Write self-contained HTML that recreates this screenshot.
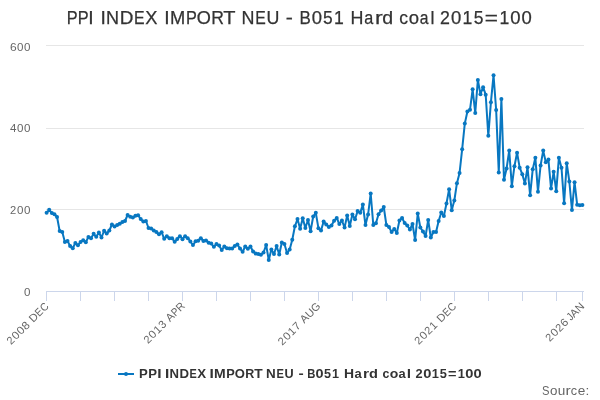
<!DOCTYPE html>
<html><head><meta charset="utf-8"><style>
html,body{margin:0;padding:0;background:#fff;width:600px;height:400px;overflow:hidden}
svg{display:block;font-family:"Liberation Sans",sans-serif;will-change:transform}
</style></head><body>
<svg width="600" height="400" viewBox="0 0 600 400">
<rect width="600" height="400" fill="#fff"/>
<g stroke="#e6e6e6" stroke-width="1" fill="none">
<path d="M 46 45.5 L 584 45.5"/><path d="M 46 128.5 L 584 128.5"/><path d="M 46 209.5 L 584 209.5"/>
</g>
<path d="M 46 291.5 L 584 291.5" stroke="#ccd6eb" stroke-width="1" fill="none"/>
<path d="M 46.5 291 L 46.5 301 M 80.5 291 L 80.5 301 M 114.5 291 L 114.5 301 M 148.5 291 L 148.5 301 M 182.5 291 L 182.5 301 M 216.5 291 L 216.5 301 M 250.5 291 L 250.5 301 M 284.5 291 L 284.5 301 M 318.5 291 L 318.5 301 M 352.5 291 L 352.5 301 M 386.5 291 L 386.5 301 M 420.5 291 L 420.5 301 M 454.5 291 L 454.5 301 M 488.5 291 L 488.5 301 M 522.5 291 L 522.5 301 M 556.5 291 L 556.5 301 M 582.5 291 L 582.5 301" stroke="#ccd6eb" stroke-width="1" fill="none"/>
<g font-size="18" fill="#333333" stroke="#333333" stroke-width="0.25">
<text x="66.67" y="23.8" textLength="10.85" lengthAdjust="spacingAndGlyphs">P</text><text x="77.76" y="23.8" textLength="10.85" lengthAdjust="spacingAndGlyphs">P</text><text x="88.39" y="23.8" textLength="5.41" lengthAdjust="spacingAndGlyphs">I</text><text x="100.42" y="23.8" textLength="5.37" lengthAdjust="spacingAndGlyphs">I</text><text x="106.11" y="23.8" textLength="13.03" lengthAdjust="spacingAndGlyphs">N</text><text x="119.70" y="23.8" textLength="13.65" lengthAdjust="spacingAndGlyphs">D</text><text x="134.01" y="23.8" textLength="10.56" lengthAdjust="spacingAndGlyphs">E</text><text x="145.19" y="23.8" textLength="12.19" lengthAdjust="spacingAndGlyphs">X</text><text x="164.21" y="23.8" textLength="5.39" lengthAdjust="spacingAndGlyphs">I</text><text x="169.91" y="23.8" textLength="15.25" lengthAdjust="spacingAndGlyphs">M</text><text x="185.92" y="23.8" textLength="10.83" lengthAdjust="spacingAndGlyphs">P</text><text x="196.70" y="23.8" textLength="14.12" lengthAdjust="spacingAndGlyphs">O</text><text x="211.34" y="23.8" textLength="12.68" lengthAdjust="spacingAndGlyphs">R</text><text x="223.23" y="23.8" textLength="12.23" lengthAdjust="spacingAndGlyphs">T</text><text x="241.53" y="23.8" textLength="12.96" lengthAdjust="spacingAndGlyphs">N</text><text x="255.30" y="23.8" textLength="10.50" lengthAdjust="spacingAndGlyphs">E</text><text x="266.48" y="23.8" textLength="12.89" lengthAdjust="spacingAndGlyphs">U</text><text x="285.85" y="23.8" textLength="7.09" lengthAdjust="spacingAndGlyphs">-</text><text x="299.61" y="23.8" textLength="11.32" lengthAdjust="spacingAndGlyphs">B</text><text x="311.70" y="23.8" textLength="10.24" lengthAdjust="spacingAndGlyphs">0</text><text x="323.04" y="23.8" textLength="9.67" lengthAdjust="spacingAndGlyphs">5</text><text x="334.08" y="23.8" textLength="9.78" lengthAdjust="spacingAndGlyphs">1</text><text x="350.53" y="23.8" textLength="12.93" lengthAdjust="spacingAndGlyphs">H</text><text x="364.16" y="23.8" textLength="9.00" lengthAdjust="spacingAndGlyphs">a</text><text x="374.91" y="23.8" textLength="7.68" lengthAdjust="spacingAndGlyphs">r</text><text x="382.38" y="23.8" textLength="10.88" lengthAdjust="spacingAndGlyphs">d</text><text x="399.26" y="23.8" textLength="8.75" lengthAdjust="spacingAndGlyphs">c</text><text x="408.81" y="23.8" textLength="10.31" lengthAdjust="spacingAndGlyphs">o</text><text x="419.68" y="23.8" textLength="8.72" lengthAdjust="spacingAndGlyphs">a</text><text x="430.43" y="23.8" textLength="3.96" lengthAdjust="spacingAndGlyphs">l</text><text x="439.90" y="23.8" textLength="9.90" lengthAdjust="spacingAndGlyphs">2</text><text x="451.10" y="23.8" textLength="10.28" lengthAdjust="spacingAndGlyphs">0</text><text x="462.40" y="23.8" textLength="9.81" lengthAdjust="spacingAndGlyphs">1</text><text x="473.63" y="23.8" textLength="9.70" lengthAdjust="spacingAndGlyphs">5</text><text x="484.88" y="23.8" textLength="13.19" lengthAdjust="spacingAndGlyphs">=</text><text x="499.39" y="23.8" textLength="9.81" lengthAdjust="spacingAndGlyphs">1</text><text x="510.39" y="23.8" textLength="10.28" lengthAdjust="spacingAndGlyphs">0</text><text x="521.55" y="23.8" textLength="10.28" lengthAdjust="spacingAndGlyphs">0</text>
</g>
<g font-size="11" fill="#666666">
<text x="9.91" y="50.8" textLength="6.67" lengthAdjust="spacingAndGlyphs">6</text><text x="17.03" y="50.8" textLength="6.45" lengthAdjust="spacingAndGlyphs">0</text><text x="24.02" y="50.8" textLength="6.45" lengthAdjust="spacingAndGlyphs">0</text><text x="10.03" y="131.8" textLength="6.45" lengthAdjust="spacingAndGlyphs">4</text><text x="17.03" y="131.8" textLength="6.45" lengthAdjust="spacingAndGlyphs">0</text><text x="24.02" y="131.8" textLength="6.45" lengthAdjust="spacingAndGlyphs">0</text><text x="10.00" y="213.8" textLength="6.22" lengthAdjust="spacingAndGlyphs">2</text><text x="17.03" y="213.8" textLength="6.45" lengthAdjust="spacingAndGlyphs">0</text><text x="24.02" y="213.8" textLength="6.45" lengthAdjust="spacingAndGlyphs">0</text><text x="24.02" y="295.8" textLength="6.45" lengthAdjust="spacingAndGlyphs">0</text>
</g>
<g font-size="11" fill="#666666"><g transform="translate(49.50 306.8) rotate(-45)"><text x="-54.35" y="0" textLength="6.22" lengthAdjust="spacingAndGlyphs">2</text><text x="-47.32" y="0" textLength="6.45" lengthAdjust="spacingAndGlyphs">0</text><text x="-40.32" y="0" textLength="6.45" lengthAdjust="spacingAndGlyphs">0</text><text x="-33.36" y="0" textLength="6.52" lengthAdjust="spacingAndGlyphs">8</text><text x="-22.96" y="0" textLength="8.22" lengthAdjust="spacingAndGlyphs">D</text><text x="-14.33" y="0" textLength="6.36" lengthAdjust="spacingAndGlyphs">E</text><text x="-7.58" y="0" textLength="7.37" lengthAdjust="spacingAndGlyphs">C</text></g><g transform="translate(185.41 306.8) rotate(-45)"><text x="-53.05" y="0" textLength="6.22" lengthAdjust="spacingAndGlyphs">2</text><text x="-46.02" y="0" textLength="6.45" lengthAdjust="spacingAndGlyphs">0</text><text x="-38.93" y="0" textLength="6.16" lengthAdjust="spacingAndGlyphs">1</text><text x="-31.88" y="0" textLength="6.19" lengthAdjust="spacingAndGlyphs">3</text><text x="-21.74" y="0" textLength="7.39" lengthAdjust="spacingAndGlyphs">A</text><text x="-13.99" y="0" textLength="6.49" lengthAdjust="spacingAndGlyphs">P</text><text x="-7.43" y="0" textLength="7.60" lengthAdjust="spacingAndGlyphs">R</text></g><g transform="translate(321.32 306.8) rotate(-45)"><text x="-55.35" y="0" textLength="6.22" lengthAdjust="spacingAndGlyphs">2</text><text x="-48.32" y="0" textLength="6.45" lengthAdjust="spacingAndGlyphs">0</text><text x="-41.23" y="0" textLength="6.16" lengthAdjust="spacingAndGlyphs">1</text><text x="-34.27" y="0" textLength="6.31" lengthAdjust="spacingAndGlyphs">7</text><text x="-24.04" y="0" textLength="7.39" lengthAdjust="spacingAndGlyphs">A</text><text x="-16.45" y="0" textLength="7.81" lengthAdjust="spacingAndGlyphs">U</text><text x="-8.45" y="0" textLength="8.34" lengthAdjust="spacingAndGlyphs">G</text></g><g transform="translate(457.23 306.8) rotate(-45)"><text x="-54.35" y="0" textLength="6.22" lengthAdjust="spacingAndGlyphs">2</text><text x="-47.32" y="0" textLength="6.45" lengthAdjust="spacingAndGlyphs">0</text><text x="-40.35" y="0" textLength="6.22" lengthAdjust="spacingAndGlyphs">2</text><text x="-33.23" y="0" textLength="6.16" lengthAdjust="spacingAndGlyphs">1</text><text x="-22.96" y="0" textLength="8.22" lengthAdjust="spacingAndGlyphs">D</text><text x="-14.33" y="0" textLength="6.36" lengthAdjust="spacingAndGlyphs">E</text><text x="-7.58" y="0" textLength="7.37" lengthAdjust="spacingAndGlyphs">C</text></g><g transform="translate(585.30 306.8) rotate(-45)"><text x="-50.24" y="0" textLength="6.22" lengthAdjust="spacingAndGlyphs">2</text><text x="-43.22" y="0" textLength="6.45" lengthAdjust="spacingAndGlyphs">0</text><text x="-36.25" y="0" textLength="6.22" lengthAdjust="spacingAndGlyphs">2</text><text x="-29.33" y="0" textLength="6.67" lengthAdjust="spacingAndGlyphs">6</text><text x="-20.26" y="0" textLength="4.67" lengthAdjust="spacingAndGlyphs">J</text><text x="-15.69" y="0" textLength="7.39" lengthAdjust="spacingAndGlyphs">A</text><text x="-8.04" y="0" textLength="7.85" lengthAdjust="spacingAndGlyphs">N</text></g></g>
<path d="M 46.60 212.80 L 49.21 209.80 L 51.83 213.00 L 54.44 214.30 L 57.05 217.00 L 59.67 231.00 L 62.28 232.00 L 64.90 242.00 L 67.51 241.00 L 70.12 246.00 L 72.74 248.20 L 75.35 243.00 L 77.96 245.20 L 80.58 242.00 L 83.19 240.20 L 85.80 242.20 L 88.42 237.00 L 91.03 238.20 L 93.65 233.80 L 96.26 236.80 L 98.87 232.50 L 101.49 237.50 L 104.10 230.80 L 106.71 233.50 L 109.33 230.50 L 111.94 224.50 L 114.56 226.50 L 117.17 225.00 L 119.78 223.80 L 122.40 222.00 L 125.01 221.00 L 127.62 215.00 L 130.24 216.80 L 132.85 217.50 L 135.46 215.80 L 138.08 215.20 L 140.69 219.00 L 143.31 221.50 L 145.92 221.00 L 148.53 228.00 L 151.15 228.50 L 153.76 230.50 L 156.37 232.00 L 158.99 234.20 L 161.60 232.20 L 164.21 238.80 L 166.83 236.20 L 169.44 238.20 L 172.06 238.20 L 174.67 241.80 L 177.28 239.00 L 179.90 236.20 L 182.51 239.20 L 185.12 236.20 L 187.74 238.20 L 190.35 241.50 L 192.96 245.00 L 195.58 241.20 L 198.19 240.80 L 200.81 238.20 L 203.42 241.00 L 206.03 240.50 L 208.65 242.80 L 211.26 243.60 L 213.87 246.80 L 216.49 244.00 L 219.10 245.50 L 221.72 250.00 L 224.33 246.50 L 226.94 248.20 L 229.56 248.50 L 232.17 248.50 L 234.78 246.00 L 237.40 244.50 L 240.01 248.50 L 242.62 251.80 L 245.24 246.50 L 247.85 248.80 L 250.47 246.50 L 253.08 251.50 L 255.69 253.50 L 258.31 254.00 L 260.92 254.80 L 263.53 252.50 L 266.15 245.00 L 268.76 260.00 L 271.37 249.50 L 273.99 254.00 L 276.60 246.00 L 279.22 254.50 L 281.83 242.50 L 284.44 244.00 L 287.06 253.00 L 289.67 249.50 L 292.28 239.80 L 294.90 226.30 L 297.51 219.00 L 300.12 228.80 L 302.74 218.20 L 305.35 228.00 L 307.97 220.00 L 310.58 231.20 L 313.19 216.50 L 315.81 212.80 L 318.42 228.20 L 321.03 230.50 L 323.65 221.50 L 326.26 224.50 L 328.88 227.00 L 331.49 225.50 L 334.10 220.80 L 336.72 218.00 L 339.33 224.00 L 341.94 220.50 L 344.56 227.60 L 347.17 215.50 L 349.78 226.00 L 352.40 214.50 L 355.01 219.30 L 357.63 211.10 L 360.24 212.80 L 362.85 204.50 L 365.47 225.00 L 368.08 214.50 L 370.69 193.50 L 373.31 225.00 L 375.92 223.30 L 378.53 214.30 L 381.15 210.50 L 383.76 207.00 L 386.38 225.00 L 388.99 227.00 L 391.60 232.00 L 394.22 229.00 L 396.83 233.00 L 399.44 220.50 L 402.06 218.00 L 404.67 223.00 L 407.28 225.50 L 409.90 229.50 L 412.51 224.00 L 415.13 240.00 L 417.74 213.50 L 420.35 227.50 L 422.97 231.50 L 425.58 236.00 L 428.19 220.00 L 430.81 237.50 L 433.42 232.00 L 436.04 232.00 L 438.65 221.00 L 441.26 212.50 L 443.88 216.00 L 446.49 203.50 L 449.10 189.20 L 451.72 210.20 L 454.33 200.50 L 456.94 183.20 L 459.56 173.00 L 462.17 149.20 L 464.79 123.60 L 467.40 111.50 L 470.01 109.70 L 472.63 89.30 L 475.24 113.00 L 477.85 80.00 L 480.47 94.20 L 483.08 87.20 L 485.69 94.70 L 488.31 135.70 L 490.92 102.20 L 493.54 75.20 L 496.15 110.00 L 498.76 172.40 L 501.38 99.10 L 503.99 179.70 L 506.60 168.50 L 509.22 150.50 L 511.83 186.20 L 514.44 166.20 L 517.06 152.70 L 519.67 167.70 L 522.29 174.20 L 524.90 183.50 L 527.51 167.30 L 530.13 195.20 L 532.74 169.20 L 535.35 157.70 L 537.97 191.70 L 540.58 165.50 L 543.20 150.60 L 545.81 162.20 L 548.42 159.60 L 551.04 188.50 L 553.65 171.80 L 556.26 191.20 L 558.88 157.80 L 561.49 167.70 L 564.10 203.20 L 566.72 163.20 L 569.33 181.50 L 571.95 210.00 L 574.56 182.20 L 577.17 204.80 L 579.79 205.20 L 582.40 204.90" stroke="#0877c1" stroke-width="2" fill="none" stroke-linejoin="round" stroke-linecap="round"/>
<g fill="#0877c1"><circle cx="46.60" cy="212.80" r="2"/><circle cx="49.21" cy="209.80" r="2"/><circle cx="51.83" cy="213.00" r="2"/><circle cx="54.44" cy="214.30" r="2"/><circle cx="57.05" cy="217.00" r="2"/><circle cx="59.67" cy="231.00" r="2"/><circle cx="62.28" cy="232.00" r="2"/><circle cx="64.90" cy="242.00" r="2"/><circle cx="67.51" cy="241.00" r="2"/><circle cx="70.12" cy="246.00" r="2"/><circle cx="72.74" cy="248.20" r="2"/><circle cx="75.35" cy="243.00" r="2"/><circle cx="77.96" cy="245.20" r="2"/><circle cx="80.58" cy="242.00" r="2"/><circle cx="83.19" cy="240.20" r="2"/><circle cx="85.80" cy="242.20" r="2"/><circle cx="88.42" cy="237.00" r="2"/><circle cx="91.03" cy="238.20" r="2"/><circle cx="93.65" cy="233.80" r="2"/><circle cx="96.26" cy="236.80" r="2"/><circle cx="98.87" cy="232.50" r="2"/><circle cx="101.49" cy="237.50" r="2"/><circle cx="104.10" cy="230.80" r="2"/><circle cx="106.71" cy="233.50" r="2"/><circle cx="109.33" cy="230.50" r="2"/><circle cx="111.94" cy="224.50" r="2"/><circle cx="114.56" cy="226.50" r="2"/><circle cx="117.17" cy="225.00" r="2"/><circle cx="119.78" cy="223.80" r="2"/><circle cx="122.40" cy="222.00" r="2"/><circle cx="125.01" cy="221.00" r="2"/><circle cx="127.62" cy="215.00" r="2"/><circle cx="130.24" cy="216.80" r="2"/><circle cx="132.85" cy="217.50" r="2"/><circle cx="135.46" cy="215.80" r="2"/><circle cx="138.08" cy="215.20" r="2"/><circle cx="140.69" cy="219.00" r="2"/><circle cx="143.31" cy="221.50" r="2"/><circle cx="145.92" cy="221.00" r="2"/><circle cx="148.53" cy="228.00" r="2"/><circle cx="151.15" cy="228.50" r="2"/><circle cx="153.76" cy="230.50" r="2"/><circle cx="156.37" cy="232.00" r="2"/><circle cx="158.99" cy="234.20" r="2"/><circle cx="161.60" cy="232.20" r="2"/><circle cx="164.21" cy="238.80" r="2"/><circle cx="166.83" cy="236.20" r="2"/><circle cx="169.44" cy="238.20" r="2"/><circle cx="172.06" cy="238.20" r="2"/><circle cx="174.67" cy="241.80" r="2"/><circle cx="177.28" cy="239.00" r="2"/><circle cx="179.90" cy="236.20" r="2"/><circle cx="182.51" cy="239.20" r="2"/><circle cx="185.12" cy="236.20" r="2"/><circle cx="187.74" cy="238.20" r="2"/><circle cx="190.35" cy="241.50" r="2"/><circle cx="192.96" cy="245.00" r="2"/><circle cx="195.58" cy="241.20" r="2"/><circle cx="198.19" cy="240.80" r="2"/><circle cx="200.81" cy="238.20" r="2"/><circle cx="203.42" cy="241.00" r="2"/><circle cx="206.03" cy="240.50" r="2"/><circle cx="208.65" cy="242.80" r="2"/><circle cx="211.26" cy="243.60" r="2"/><circle cx="213.87" cy="246.80" r="2"/><circle cx="216.49" cy="244.00" r="2"/><circle cx="219.10" cy="245.50" r="2"/><circle cx="221.72" cy="250.00" r="2"/><circle cx="224.33" cy="246.50" r="2"/><circle cx="226.94" cy="248.20" r="2"/><circle cx="229.56" cy="248.50" r="2"/><circle cx="232.17" cy="248.50" r="2"/><circle cx="234.78" cy="246.00" r="2"/><circle cx="237.40" cy="244.50" r="2"/><circle cx="240.01" cy="248.50" r="2"/><circle cx="242.62" cy="251.80" r="2"/><circle cx="245.24" cy="246.50" r="2"/><circle cx="247.85" cy="248.80" r="2"/><circle cx="250.47" cy="246.50" r="2"/><circle cx="253.08" cy="251.50" r="2"/><circle cx="255.69" cy="253.50" r="2"/><circle cx="258.31" cy="254.00" r="2"/><circle cx="260.92" cy="254.80" r="2"/><circle cx="263.53" cy="252.50" r="2"/><circle cx="266.15" cy="245.00" r="2"/><circle cx="268.76" cy="260.00" r="2"/><circle cx="271.37" cy="249.50" r="2"/><circle cx="273.99" cy="254.00" r="2"/><circle cx="276.60" cy="246.00" r="2"/><circle cx="279.22" cy="254.50" r="2"/><circle cx="281.83" cy="242.50" r="2"/><circle cx="284.44" cy="244.00" r="2"/><circle cx="287.06" cy="253.00" r="2"/><circle cx="289.67" cy="249.50" r="2"/><circle cx="292.28" cy="239.80" r="2"/><circle cx="294.90" cy="226.30" r="2"/><circle cx="297.51" cy="219.00" r="2"/><circle cx="300.12" cy="228.80" r="2"/><circle cx="302.74" cy="218.20" r="2"/><circle cx="305.35" cy="228.00" r="2"/><circle cx="307.97" cy="220.00" r="2"/><circle cx="310.58" cy="231.20" r="2"/><circle cx="313.19" cy="216.50" r="2"/><circle cx="315.81" cy="212.80" r="2"/><circle cx="318.42" cy="228.20" r="2"/><circle cx="321.03" cy="230.50" r="2"/><circle cx="323.65" cy="221.50" r="2"/><circle cx="326.26" cy="224.50" r="2"/><circle cx="328.88" cy="227.00" r="2"/><circle cx="331.49" cy="225.50" r="2"/><circle cx="334.10" cy="220.80" r="2"/><circle cx="336.72" cy="218.00" r="2"/><circle cx="339.33" cy="224.00" r="2"/><circle cx="341.94" cy="220.50" r="2"/><circle cx="344.56" cy="227.60" r="2"/><circle cx="347.17" cy="215.50" r="2"/><circle cx="349.78" cy="226.00" r="2"/><circle cx="352.40" cy="214.50" r="2"/><circle cx="355.01" cy="219.30" r="2"/><circle cx="357.63" cy="211.10" r="2"/><circle cx="360.24" cy="212.80" r="2"/><circle cx="362.85" cy="204.50" r="2"/><circle cx="365.47" cy="225.00" r="2"/><circle cx="368.08" cy="214.50" r="2"/><circle cx="370.69" cy="193.50" r="2"/><circle cx="373.31" cy="225.00" r="2"/><circle cx="375.92" cy="223.30" r="2"/><circle cx="378.53" cy="214.30" r="2"/><circle cx="381.15" cy="210.50" r="2"/><circle cx="383.76" cy="207.00" r="2"/><circle cx="386.38" cy="225.00" r="2"/><circle cx="388.99" cy="227.00" r="2"/><circle cx="391.60" cy="232.00" r="2"/><circle cx="394.22" cy="229.00" r="2"/><circle cx="396.83" cy="233.00" r="2"/><circle cx="399.44" cy="220.50" r="2"/><circle cx="402.06" cy="218.00" r="2"/><circle cx="404.67" cy="223.00" r="2"/><circle cx="407.28" cy="225.50" r="2"/><circle cx="409.90" cy="229.50" r="2"/><circle cx="412.51" cy="224.00" r="2"/><circle cx="415.13" cy="240.00" r="2"/><circle cx="417.74" cy="213.50" r="2"/><circle cx="420.35" cy="227.50" r="2"/><circle cx="422.97" cy="231.50" r="2"/><circle cx="425.58" cy="236.00" r="2"/><circle cx="428.19" cy="220.00" r="2"/><circle cx="430.81" cy="237.50" r="2"/><circle cx="433.42" cy="232.00" r="2"/><circle cx="436.04" cy="232.00" r="2"/><circle cx="438.65" cy="221.00" r="2"/><circle cx="441.26" cy="212.50" r="2"/><circle cx="443.88" cy="216.00" r="2"/><circle cx="446.49" cy="203.50" r="2"/><circle cx="449.10" cy="189.20" r="2"/><circle cx="451.72" cy="210.20" r="2"/><circle cx="454.33" cy="200.50" r="2"/><circle cx="456.94" cy="183.20" r="2"/><circle cx="459.56" cy="173.00" r="2"/><circle cx="462.17" cy="149.20" r="2"/><circle cx="464.79" cy="123.60" r="2"/><circle cx="467.40" cy="111.50" r="2"/><circle cx="470.01" cy="109.70" r="2"/><circle cx="472.63" cy="89.30" r="2"/><circle cx="475.24" cy="113.00" r="2"/><circle cx="477.85" cy="80.00" r="2"/><circle cx="480.47" cy="94.20" r="2"/><circle cx="483.08" cy="87.20" r="2"/><circle cx="485.69" cy="94.70" r="2"/><circle cx="488.31" cy="135.70" r="2"/><circle cx="490.92" cy="102.20" r="2"/><circle cx="493.54" cy="75.20" r="2"/><circle cx="496.15" cy="110.00" r="2"/><circle cx="498.76" cy="172.40" r="2"/><circle cx="501.38" cy="99.10" r="2"/><circle cx="503.99" cy="179.70" r="2"/><circle cx="506.60" cy="168.50" r="2"/><circle cx="509.22" cy="150.50" r="2"/><circle cx="511.83" cy="186.20" r="2"/><circle cx="514.44" cy="166.20" r="2"/><circle cx="517.06" cy="152.70" r="2"/><circle cx="519.67" cy="167.70" r="2"/><circle cx="522.29" cy="174.20" r="2"/><circle cx="524.90" cy="183.50" r="2"/><circle cx="527.51" cy="167.30" r="2"/><circle cx="530.13" cy="195.20" r="2"/><circle cx="532.74" cy="169.20" r="2"/><circle cx="535.35" cy="157.70" r="2"/><circle cx="537.97" cy="191.70" r="2"/><circle cx="540.58" cy="165.50" r="2"/><circle cx="543.20" cy="150.60" r="2"/><circle cx="545.81" cy="162.20" r="2"/><circle cx="548.42" cy="159.60" r="2"/><circle cx="551.04" cy="188.50" r="2"/><circle cx="553.65" cy="171.80" r="2"/><circle cx="556.26" cy="191.20" r="2"/><circle cx="558.88" cy="157.80" r="2"/><circle cx="561.49" cy="167.70" r="2"/><circle cx="564.10" cy="203.20" r="2"/><circle cx="566.72" cy="163.20" r="2"/><circle cx="569.33" cy="181.50" r="2"/><circle cx="571.95" cy="210.00" r="2"/><circle cx="574.56" cy="182.20" r="2"/><circle cx="577.17" cy="204.80" r="2"/><circle cx="579.79" cy="205.20" r="2"/><circle cx="582.40" cy="204.90" r="2"/></g>
<path d="M 118 374 L 134 374" stroke="#0877c1" stroke-width="2"/>
<circle cx="126" cy="374" r="2" fill="#0877c1"/>
<g font-size="12" font-weight="bold" fill="#333333">
<text x="139.12" y="377.7" textLength="8.77" lengthAdjust="spacingAndGlyphs">P</text><text x="148.21" y="377.7" textLength="8.77" lengthAdjust="spacingAndGlyphs">P</text><text x="157.17" y="377.7" textLength="4.33" lengthAdjust="spacingAndGlyphs">I</text><text x="164.97" y="377.7" textLength="4.29" lengthAdjust="spacingAndGlyphs">I</text><text x="169.52" y="377.7" textLength="9.49" lengthAdjust="spacingAndGlyphs">N</text><text x="179.42" y="377.7" textLength="9.56" lengthAdjust="spacingAndGlyphs">D</text><text x="189.39" y="377.7" textLength="7.29" lengthAdjust="spacingAndGlyphs">E</text><text x="197.22" y="377.7" textLength="8.89" lengthAdjust="spacingAndGlyphs">X</text><text x="209.47" y="377.7" textLength="4.33" lengthAdjust="spacingAndGlyphs">I</text><text x="214.06" y="377.7" textLength="11.67" lengthAdjust="spacingAndGlyphs">M</text><text x="226.16" y="377.7" textLength="8.54" lengthAdjust="spacingAndGlyphs">P</text><text x="234.82" y="377.7" textLength="10.14" lengthAdjust="spacingAndGlyphs">O</text><text x="245.30" y="377.7" textLength="9.04" lengthAdjust="spacingAndGlyphs">R</text><text x="254.23" y="377.7" textLength="8.42" lengthAdjust="spacingAndGlyphs">T</text><text x="266.10" y="377.7" textLength="9.71" lengthAdjust="spacingAndGlyphs">N</text><text x="276.38" y="377.7" textLength="7.45" lengthAdjust="spacingAndGlyphs">E</text><text x="284.64" y="377.7" textLength="9.14" lengthAdjust="spacingAndGlyphs">U</text><text x="298.51" y="377.7" textLength="5.19" lengthAdjust="spacingAndGlyphs">-</text><text x="307.25" y="377.7" textLength="8.13" lengthAdjust="spacingAndGlyphs">B</text><text x="315.64" y="377.7" textLength="8.03" lengthAdjust="spacingAndGlyphs">0</text><text x="324.12" y="377.7" textLength="7.02" lengthAdjust="spacingAndGlyphs">5</text><text x="332.07" y="377.7" textLength="7.03" lengthAdjust="spacingAndGlyphs">1</text><text x="344.07" y="377.7" textLength="10.06" lengthAdjust="spacingAndGlyphs">H</text><text x="354.50" y="377.7" textLength="7.23" lengthAdjust="spacingAndGlyphs">a</text><text x="362.97" y="377.7" textLength="6.07" lengthAdjust="spacingAndGlyphs">r</text><text x="368.94" y="377.7" textLength="8.92" lengthAdjust="spacingAndGlyphs">d</text><text x="382.52" y="377.7" textLength="6.85" lengthAdjust="spacingAndGlyphs">c</text><text x="389.83" y="377.7" textLength="8.57" lengthAdjust="spacingAndGlyphs">o</text><text x="398.54" y="377.7" textLength="7.18" lengthAdjust="spacingAndGlyphs">a</text><text x="406.75" y="377.7" textLength="4.33" lengthAdjust="spacingAndGlyphs">l</text><text x="415.56" y="377.7" textLength="7.13" lengthAdjust="spacingAndGlyphs">2</text><text x="423.16" y="377.7" textLength="8.17" lengthAdjust="spacingAndGlyphs">0</text><text x="431.79" y="377.7" textLength="7.16" lengthAdjust="spacingAndGlyphs">1</text><text x="439.89" y="377.7" textLength="7.14" lengthAdjust="spacingAndGlyphs">5</text><text x="448.12" y="377.7" textLength="8.49" lengthAdjust="spacingAndGlyphs">=</text><text x="457.75" y="377.7" textLength="7.16" lengthAdjust="spacingAndGlyphs">1</text><text x="465.33" y="377.7" textLength="8.17" lengthAdjust="spacingAndGlyphs">0</text><text x="473.43" y="377.7" textLength="8.17" lengthAdjust="spacingAndGlyphs">0</text>
</g>
<g font-size="12" fill="#666666">
<text x="542.09" y="394.9" textLength="7.49" lengthAdjust="spacingAndGlyphs">S</text><text x="549.90" y="394.9" textLength="7.45" lengthAdjust="spacingAndGlyphs">o</text><text x="557.67" y="394.9" textLength="7.56" lengthAdjust="spacingAndGlyphs">u</text><text x="565.64" y="394.9" textLength="5.19" lengthAdjust="spacingAndGlyphs">r</text><text x="570.80" y="394.9" textLength="6.32" lengthAdjust="spacingAndGlyphs">c</text><text x="577.69" y="394.9" textLength="7.57" lengthAdjust="spacingAndGlyphs">e</text><text x="585.56" y="394.9" textLength="3.79" lengthAdjust="spacingAndGlyphs">:</text>
</g>
</svg>
</body></html>
